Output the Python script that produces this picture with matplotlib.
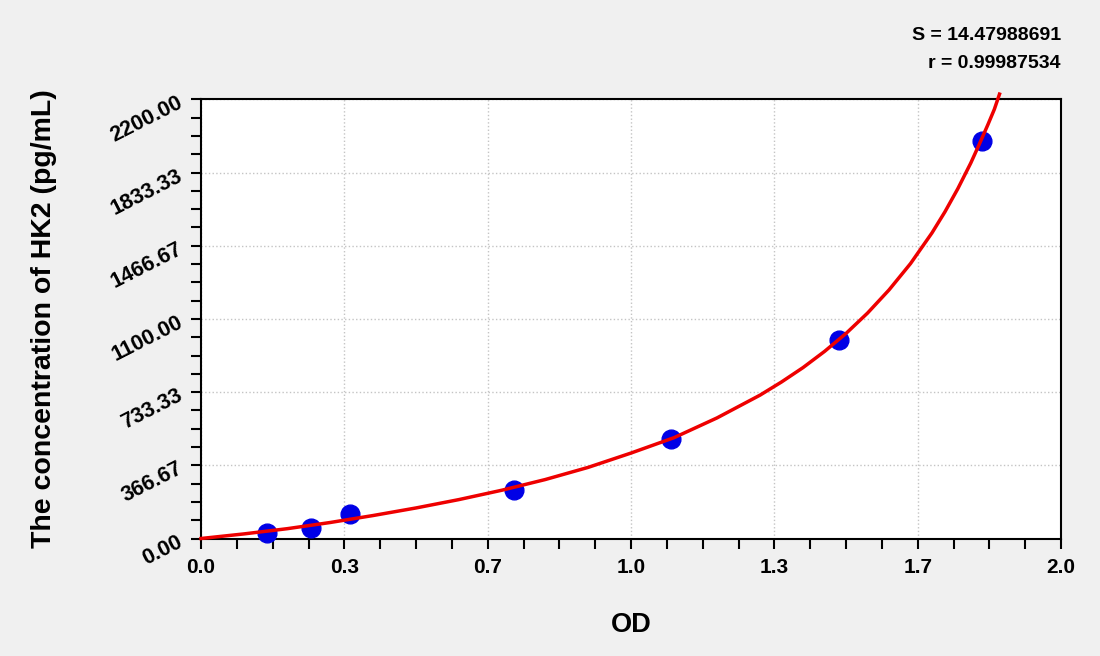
import numpy as np
import matplotlib
matplotlib.use('Agg')
import matplotlib.pyplot as plt
from matplotlib.ticker import MultipleLocator, FixedLocator

# standard points (OD, concentration pg/mL)
od = [0.153, 0.256, 0.347, 0.728, 1.092, 1.483, 1.816]
conc = [26, 54, 121, 242, 496, 992, 1989]

# fitted curve
curve_od = [0.00, 0.10, 0.20, 0.30, 0.40, 0.50, 0.60, 0.70, 0.80, 0.90, 1.00,
            1.10, 1.20, 1.30, 1.35, 1.40, 1.45, 1.50, 1.55, 1.60, 1.65, 1.70,
            1.73, 1.76, 1.79, 1.81, 1.83, 1.845, 1.857]
curve_conc = [0, 23, 49, 80, 115, 153, 195, 242, 295, 356, 428,
              505, 604, 718, 784, 856, 937, 1027, 1129, 1245, 1377, 1531,
              1636, 1752, 1880, 1975, 2073, 2150, 2226]

x_ticks = [0.0, 1/3, 2/3, 1.0, 4/3, 5/3, 2.0]
x_labels = ['0.0', '0.3', '0.7', '1.0', '1.3', '1.7', '2.0']
y_ticks = [0, 366.67, 733.33, 1100, 1466.67, 1833.33, 2200]
y_labels = ['0.00', '366.67', '733.33', '1100.00', '1466.67', '1833.33', '2200.00']

S_text = 'S = 14.47988691'
r_text = 'r = 0.99987534'

plt.rcParams['font.family'] = ['Liberation Sans', 'DejaVu Sans']
plt.rcParams['font.weight'] = 'bold'

bg = '#f0f0f0'
fig = plt.figure(figsize=(11, 6.56), dpi=100, facecolor=bg)
ax = fig.add_axes([201/1100, 1-538.5/656, 860/1100, 439.2/656])
ax.set_facecolor('white')

ax.plot(od, conc, 'o', color='#0000e6', markersize=13.5, zorder=3, clip_on=False)
ax.plot(curve_od, curve_conc, '-', color='#ee0000', lw=2.5, zorder=4,
        clip_on=False, solid_joinstyle='round')

ax.set_xlim(0, 2.0)
ax.set_ylim(0, 2200)
ax.xaxis.set_major_locator(FixedLocator(x_ticks))
ax.set_xticklabels(x_labels)
ax.yaxis.set_major_locator(FixedLocator(y_ticks))
ax.set_yticklabels(y_labels)
ax.xaxis.set_minor_locator(MultipleLocator(1/12))
ax.yaxis.set_minor_locator(MultipleLocator(2200/24))

ax.grid(True, which='major', color='#c4c4c4', linestyle=':', linewidth=1.0)
ax.set_axisbelow(True)
for sp in ax.spines.values():
    sp.set_linewidth(1.5)
    sp.set_color('black')

ax.tick_params(which='both', direction='out', length=7, width=1.5, color='black')
ax.tick_params(axis='x', labelsize=15, pad=7)
ax.tick_params(axis='y', labelsize=15.5, pad=8)
for lab in ax.get_yticklabels():
    lab.set_rotation(27)
    lab.set_rotation_mode('anchor')
    lab.set_ha('right')
    lab.set_va('center_baseline')
    lab.set_fontweight('bold')
for lab in ax.get_xticklabels():
    lab.set_fontweight('bold')

ax.set_xlabel('OD', fontsize=19.5, fontweight='bold')
ax.xaxis.set_label_coords(0.5, -0.168)
ax.set_ylabel('The concentration of HK2 (pg/mL)', fontsize=20.5, fontweight='bold')
ax.yaxis.set_label_coords(-0.168, 0.5)

fig.text(1061/1100, 1-36/656, S_text, ha='right', va='center', fontsize=14, fontweight='bold')
fig.text(1061/1100, 1-63/656, r_text, ha='right', va='center', fontsize=14, fontweight='bold')

plt.savefig('out.png', dpi=100, facecolor=bg)
